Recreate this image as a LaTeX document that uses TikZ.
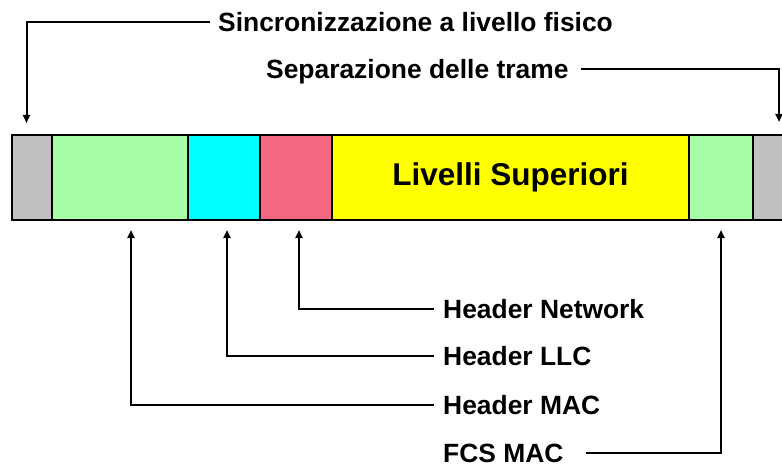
\documentclass[tikz,border=0pt]{standalone}
\usepackage{fontspec}
\setmainfont{Liberation Sans}
\usetikzlibrary{arrows.meta}
\definecolor{grayblk}{RGB}{192,192,192}
\definecolor{greenblk}{RGB}{166,255,166}
\definecolor{cyanblk}{RGB}{0,255,255}
\definecolor{pinkblk}{RGB}{245,104,130}
\definecolor{yellowblk}{RGB}{255,255,0}
\begin{document}
\begin{tikzpicture}[x=1pt,y=-1pt,
  blk/.style={draw=black, line width=2pt, inner sep=0pt, minimum height=85pt, anchor=north west},
  lbl/.style={font=\fontsize{26.4}{30}\selectfont\bfseries, inner sep=0pt, text height=19pt, text depth=0pt, anchor=west},
  conn/.style={line width=2pt, line join=miter, -{Triangle[length=8pt,width=7pt]}}]
\useasboundingbox (0,0) rectangle (782,468);
% frame blocks
\node[blk, fill=grayblk,   minimum width=40pt]  (g1)  at (11,134)  {};
\node[blk, fill=greenblk,  minimum width=136pt] (m1)  at (51,134)  {};
\node[blk, fill=cyanblk,   minimum width=72pt]  (llc) at (187,134) {};
\node[blk, fill=pinkblk,   minimum width=72pt]  (net) at (259,134) {};
\node[blk, fill=yellowblk, minimum width=357pt] (up)  at (331,134) {};
\node[blk, fill=greenblk,  minimum width=64pt]  (fcs) at (688,134) {};
\node[blk, fill=grayblk,   minimum width=52pt]  (g2)  at (752,134) {};
\node[font=\fontsize{31.5}{36}\selectfont\bfseries, inner sep=0pt] (uptext) at (up.center) {Livelli Superiori};
% labels
\node[lbl] (sync) at (218,22)  {Sincronizzazione a livello fisico};
\node[lbl] (sep)  at (266,69)  {Separazione delle trame};
\node[lbl] (hnet) at (443,308.7) {Header Network};
\node[lbl] (hllc) at (443,356) {Header LLC};
\node[lbl] (hmac) at (443,405) {Header MAC};
\node[lbl] (hfcs) at (443,452.7) {FCS MAC};
% connectors
\draw[conn] ([xshift=-8pt]sync.west) -| ([xshift=-5.5pt,yshift=11pt]g1.north);
\draw[conn] ([xshift=12pt]sep.east) -| ([yshift=12pt]g2.north);
\draw[conn] ([xshift=-9pt]hnet.west) -| ([xshift=3pt,yshift=-9pt]net.south);
\draw[conn] ([xshift=-9pt]hllc.west) -| ([xshift=3pt,yshift=-9pt]llc.south);
\draw[conn] ([xshift=-9pt]hmac.west) -| ([xshift=11pt,yshift=-9pt]m1.south);
\draw[conn] ([xshift=22pt]hfcs.east) -| ([yshift=-9pt]fcs.south);
\end{tikzpicture}
\end{document}
